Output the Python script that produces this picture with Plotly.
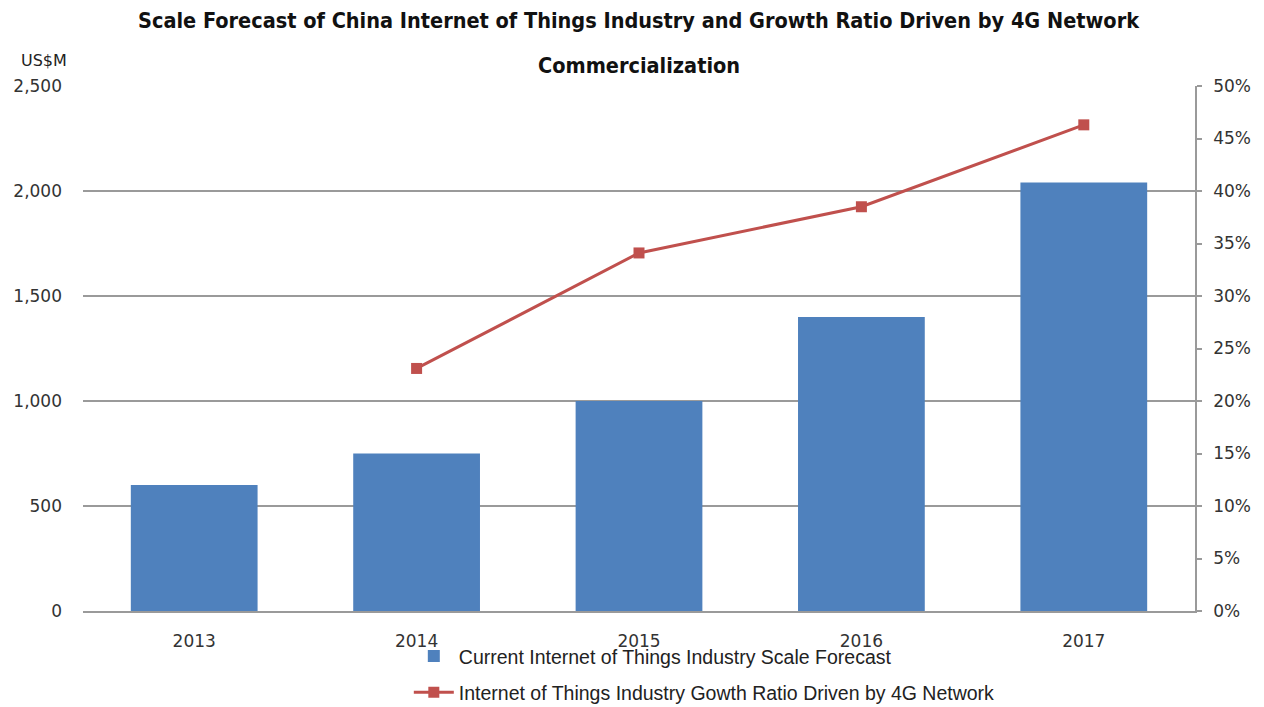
import plotly.graph_objects as go

# Chart data
years = ["2013", "2014", "2015", "2016", "2017"]
scale_usd_m = [600, 750, 1000, 1400, 2040]
growth_ratio_pct = [None, 23.1, 34.1, 38.5, 46.3]

left_ticks = [0, 500, 1000, 1500, 2000, 2500]
left_tick_text = ["0", "500", "1,000", "1,500", "2,000", "2,500"]
right_ticks = [0, 5, 10, 15, 20, 25, 30, 35, 40, 45, 50]
right_tick_text = [f"{v}%" for v in right_ticks]

bar_name = "Current Internet of Things Industry Scale Forecast"
line_name = "Internet of Things Industry Gowth Ratio Driven by 4G Network"

BAR_COLOR = "#4F81BD"
LINE_COLOR = "#C0504D"
GRID = "#9a9a9a"
TICK_FONT = dict(family="DejaVu Sans", size=17, color="#333333")
TITLE_FONT = dict(family="Liberation Sans Narrow, DejaVu Sans Condensed", size=21.5, color="#111111")

fig = go.Figure()
fig.add_trace(go.Bar(
    x=years, y=scale_usd_m, name=bar_name,
    marker=dict(color=BAR_COLOR, line=dict(width=0)),
    legendgroup="a", yaxis="y",
))
fig.add_trace(go.Scatter(
    x=years, y=growth_ratio_pct, name=line_name,
    mode="lines+markers",
    line=dict(color=LINE_COLOR, width=3),
    marker=dict(symbol="square", size=11, color=LINE_COLOR),
    legendgroup="b", yaxis="y2", connectgaps=False,
))

fig.update_layout(
    width=1264, height=707,
    margin=dict(l=83, r=69, t=86, b=96, autoexpand=False),
    paper_bgcolor="white", plot_bgcolor="white",
    bargap=0.43,
    showlegend=True,
    legend=dict(
        x=0.293, xanchor="left", y=-0.049, yanchor="top",
        orientation="v", traceorder="grouped", tracegroupgap=8,
        font=dict(family="Liberation Sans", size=19.5, color="#222222"),
        itemwidth=40, bgcolor="rgba(0,0,0,0)",
    ),
    xaxis=dict(
        type="category", showgrid=False, showline=True, linecolor=GRID,
        linewidth=1.5, ticks="", tickfont=TICK_FONT, ticklabelstandoff=14,
    ),
    yaxis=dict(
        range=[0, 2500], tickvals=left_ticks, ticktext=left_tick_text,
        showgrid=True, gridcolor=GRID, gridwidth=1.5, zeroline=False,
        showline=False, ticks="", tickfont=TICK_FONT, ticklabelstandoff=20,
    ),
    yaxis2=dict(
        range=[0, 50], tickvals=right_ticks, ticktext=right_tick_text,
        overlaying="y", side="right", showgrid=False, zeroline=False,
        showline=True, linecolor=GRID, linewidth=1.5,
        ticks="outside", ticklen=5, tickcolor=GRID, tickwidth=1.5,
        tickfont=TICK_FONT, ticklabelstandoff=8,
    ),
    annotations=[
        dict(text="<b>Scale Forecast of China Internet of Things Industry and Growth Ratio Driven by 4G Network</b>",
             xref="paper", yref="paper", x=0.5, y=(611 - 20) / 525, xanchor="center", yanchor="middle",
             showarrow=False, font=TITLE_FONT),
        dict(text="<b>Commercialization</b>",
             xref="paper", yref="paper", x=0.5, y=(611 - 66) / 525, xanchor="center", yanchor="middle",
             showarrow=False, font=TITLE_FONT),
        dict(text="US$M", xref="paper", yref="paper",
             x=(44 - 83) / 1112, y=(611 - 60) / 525, xanchor="center", yanchor="middle",
             showarrow=False, font=dict(family="DejaVu Sans", size=16, color="#222222")),
    ],
)

fig.write_html("out.html")
